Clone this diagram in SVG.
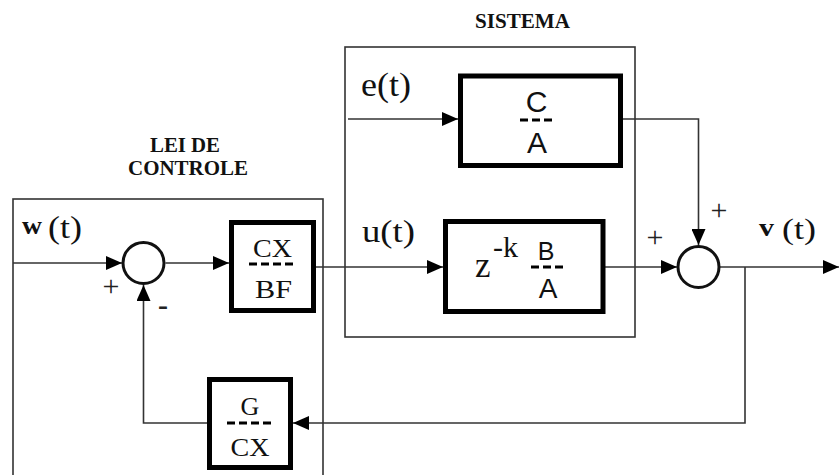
<svg xmlns="http://www.w3.org/2000/svg" width="839" height="475" viewBox="0 0 839 475">
<defs>
<style>
.frame{fill:none;stroke:#333;stroke-width:1.6}
.blk{fill:#fff;stroke:#000;stroke-width:5}
.sum{fill:#fff;stroke:#111;stroke-width:3}
.wire{fill:none;stroke:#333;stroke-width:1.6}
.dash{stroke:#000;stroke-width:2.8;stroke-dasharray:8 4}
.hdr{font-family:"Liberation Serif",serif;font-weight:bold;font-size:22px;fill:#111;text-anchor:middle}
.sig{font-family:"Liberation Serif",serif;fill:#111}
.ser{font-family:"Liberation Serif",serif;font-size:26px;fill:#111;text-anchor:middle}
.san{font-family:"Liberation Sans",sans-serif;fill:#111;text-anchor:middle}
.sgn{font-family:"Liberation Serif",serif;font-size:30px;fill:#222;text-anchor:middle}
</style>
<marker id="arr" viewBox="0 0 16 14" refX="16" refY="7" markerWidth="16" markerHeight="14" markerUnits="userSpaceOnUse" orient="auto">
<path d="M0,0 L16,7 L0,14 z" fill="#000"/>
</marker>
</defs>
<rect width="839" height="475" fill="#fff"/>

<g id="lei-de-controle">
<rect class="frame" x="13" y="199" width="310" height="290"/>
<text class="hdr" x="185" y="152" textLength="70" lengthAdjust="spacingAndGlyphs">LEI DE</text>
<text class="hdr" x="188" y="175" textLength="120" lengthAdjust="spacingAndGlyphs">CONTROLE</text>
</g>

<g id="sistema">
<rect class="frame" x="345" y="47" width="290" height="290"/>
<text class="hdr" x="522.5" y="28" textLength="95" lengthAdjust="spacingAndGlyphs">SISTEMA</text>
</g>

<g id="connectors">
<path class="wire" d="M13,263 H122" marker-end="url(#arr)"/>
<path class="wire" d="M165.5,263 H229" marker-end="url(#arr)"/>
<path class="wire" d="M316,267 H443" marker-end="url(#arr)"/>
<path class="wire" d="M348,119 H458" marker-end="url(#arr)"/>
<path class="wire" d="M622,119 H698.5 V245" marker-end="url(#arr)"/>
<path class="wire" d="M605,267 H677" marker-end="url(#arr)"/>
<path class="wire" d="M720,267 H839" marker-end="url(#arr)"/>
<path class="wire" d="M745,267 V423 H293" marker-end="url(#arr)"/>
<path class="wire" d="M207,423 H143.5 V285" marker-end="url(#arr)"/>
</g>

<g id="sum1">
<circle class="sum" cx="143.5" cy="263" r="20.5"/>
<text class="sgn" x="111" y="296">+</text>
<text class="sgn" x="163" y="315" font-weight="bold" font-size="32">-</text>
</g>

<g id="sum2">
<circle class="sum" cx="698.5" cy="267" r="20.5"/>
<text class="sgn" x="719" y="220">+</text>
<text class="sgn" x="655" y="246.5">+</text>
</g>

<g id="block-cx-bf">
<rect class="blk" x="231.5" y="222.5" width="82" height="88"/>
<text class="ser" x="272.5" y="257" textLength="39" lengthAdjust="spacingAndGlyphs">CX</text>
<line class="dash" x1="249" y1="264" x2="297" y2="264"/>
<text class="ser" x="273.5" y="298" textLength="37" lengthAdjust="spacingAndGlyphs">BF</text>
</g>

<g id="block-g-cx">
<rect class="blk" x="209.5" y="379.5" width="81" height="88"/>
<text class="ser" x="250" y="415">G</text>
<line class="dash" x1="227" y1="423" x2="275" y2="423"/>
<text class="ser" x="250" y="456" textLength="39" lengthAdjust="spacingAndGlyphs">CX</text>
</g>

<g id="block-c-a">
<rect class="blk" x="460.5" y="76" width="160" height="89.5"/>
<text class="san" x="536.5" y="112" font-size="30">C</text>
<line class="dash" x1="520" y1="120" x2="553" y2="120"/>
<text class="san" x="537" y="153" font-size="30">A</text>
</g>

<g id="block-z-b-a">
<rect class="blk" x="445.5" y="221.5" width="157.5" height="90"/>
<text class="sig" x="475" y="277" font-size="35">z</text>
<text class="sig" x="493" y="257" font-size="30">-k</text>
<text class="san" x="546" y="260" font-size="25">B</text>
<line class="dash" x1="531" y1="267" x2="565" y2="267"/>
<text class="san" x="548" y="298" font-size="28">A</text>
</g>

<g id="labels">
<text class="sig" x="22" y="234" font-size="25" font-weight="bold" textLength="20" lengthAdjust="spacingAndGlyphs">w</text>
<text class="sig" x="48" y="238" font-size="32" textLength="34" lengthAdjust="spacingAndGlyphs">(t)</text>
<text class="sig" x="361" y="96" font-size="33" textLength="50" lengthAdjust="spacingAndGlyphs">e(t)</text>
<text class="sig" x="362" y="242" font-size="32" textLength="53" lengthAdjust="spacingAndGlyphs">u(t)</text>
<text class="sig" x="759" y="236" font-size="25" font-weight="bold" textLength="15" lengthAdjust="spacingAndGlyphs">v</text>
<text class="sig" x="782" y="239" font-size="30" textLength="34" lengthAdjust="spacingAndGlyphs">(t)</text>
</g>
</svg>
